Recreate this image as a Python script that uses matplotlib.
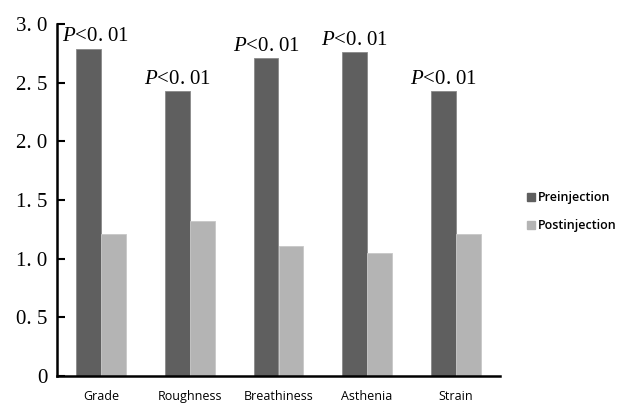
import matplotlib
matplotlib.use("Agg")
import matplotlib.pyplot as plt
from matplotlib.patches import Patch
import numpy as np

# 数据
categories = ["Grade", "Roughness", "Breathiness", "Asthenia", "Strain"]
pre_values = [2.79, 2.43, 2.71, 2.76, 2.43]
post_values = [1.21, 1.32, 1.11, 1.05, 1.21]
p_labels = ["$P$<0. 01"] * 5
y_ticks = [0, 0.5, 1.0, 1.5, 2.0, 2.5, 3.0]
y_tick_labels = ["0", "0. 5", "1. 0", "1. 5", "2. 0", "2. 5", "3. 0"]

# P 值斜体用 Liberation Serif
plt.rcParams["mathtext.fontset"] = "custom"
plt.rcParams["mathtext.it"] = "Liberation Serif:italic"
plt.rcParams["mathtext.rm"] = "Liberation Serif"

PRE_COLOR = "#5f5f5f"
POST_COLOR = "#b4b4b4"
W, H = 621, 404

fig = plt.figure(figsize=(W / 100, H / 100), dpi=100)
ax = fig.add_axes([57 / W, 28 / H, (500 - 57) / W, (376 - 24) / H])

x = np.arange(len(categories))
bw = 0.28
ax.bar(x - bw / 2, pre_values, width=bw, color=PRE_COLOR, edgecolor="#8a8a8a", linewidth=0.6)
ax.bar(x + bw / 2, post_values, width=bw, color=POST_COLOR, edgecolor="#c8c8c8", linewidth=0.6)

# P 值标注（第一组稍微右移，避开坐标轴）
for i, (xi, v, lab) in enumerate(zip(x, pre_values, p_labels)):
    shift = 0.07 if i == 0 else 0.0
    ax.text(xi - bw / 2 + shift, v + 0.02, lab, ha="center", va="bottom",
            fontsize=15, family="Liberation Serif")

ax.set_xlim(-0.5, 4.5)
ax.set_ylim(0, 3.0)
ax.set_yticks(y_ticks)
ax.set_yticklabels(y_tick_labels, fontsize=15, family="Liberation Serif")
ax.set_xticks(x)
ax.set_xticklabels(categories, fontsize=9, family="Open Sans")
ax.tick_params(axis="x", length=0, pad=10)
ax.tick_params(axis="y", direction="in", length=6, width=1.5, pad=7)
for s in ["top", "right"]:
    ax.spines[s].set_visible(False)
for s in ["left", "bottom"]:
    ax.spines[s].set_linewidth(1.8)

handles = [Patch(color=PRE_COLOR, label="Preinjection"),
           Patch(color=POST_COLOR, label="Postinjection")]
fig.legend(handles=handles, loc="center left", bbox_to_anchor=(527 / W, 1 - 212 / H),
           frameon=False, prop={"family": "Open Sans", "size": 9, "weight": "semibold"},
           handlelength=0.65, handleheight=0.65, handletextpad=0.2, labelspacing=1.2,
           borderpad=0, borderaxespad=0)

fig.savefig("out.png", dpi=100)
